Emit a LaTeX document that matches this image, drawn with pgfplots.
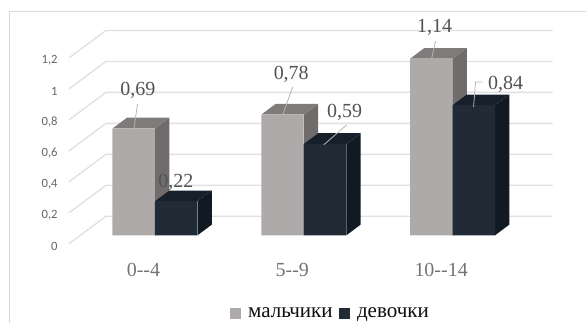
\documentclass[border=0pt]{standalone}
\usepackage{pgfplots}
\pgfplotsset{compat=1.18}
\usepackage{fontspec}
\setmainfont{Liberation Serif}
\newfontfamily\tickfont{Carlito}
\definecolor{boyfront}{HTML}{AEAAAA}
\definecolor{boyside}{HTML}{706C6B}
\definecolor{boytop}{HTML}{7F7B7A}
\definecolor{girlfront}{HTML}{212B35}
\definecolor{girlside}{HTML}{111A22}
\definecolor{girltop}{HTML}{17202A}
\definecolor{gridgrey}{HTML}{E0E0E0}
\definecolor{framegrey}{HTML}{DADADA}
\definecolor{leader}{HTML}{B5B5B5}

% Horizontal unit is one pixel; vertical unit is one value unit (155 px).
\newcommand\at[2]{(axis cs:#1,{(235.5-(#2))/155})}
% Side and top faces of a 3D bar: left edge, value, colours.
\newcommand\barfaces[4]{%
  \pgfmathsetmacro\xa{#1+42.5}%
  \pgfmathsetmacro\xb{#1+42.5+14.3}%
  \pgfmathsetmacro\xc{#1+14.3}%
  \pgfmathsetmacro\yb{#2+0.069}%
  \pgfmathsetmacro\yo{0.069}%
  \addplot[fill=#3,draw=none,forget plot] coordinates {(\xa,0) (\xb,\yo) (\xb,\yb) (\xa,#2)} -- cycle;
  \addplot[fill=#4,draw=none,forget plot] coordinates {(#1,#2) (\xc,\yb) (\xb,\yb) (\xa,#2)} -- cycle;
}
\newcommand\valuelabel[3]{\node[text=black!68,font=\fontsize{15}{15}\selectfont,inner sep=0pt] at \at{#1}{#2} {#3};}
% One wall gridline with its slanted floor segment.
\newcommand\wallline[1]{\draw[gridgrey,line width=1pt] \at{69}{#1+27.5} -- \at{106}{#1} -- \at{553}{#1};}

\begin{document}
\begin{tikzpicture}
\begin{axis}[
  x=0.75pt, y=116.25pt,
  xmin=60, xmax=560,
  ymin=-0.158, ymax=1.487,
  clip=false,
  axis line style={draw=none},
  major tick length=0pt,
  xtick={155,304,453},
  xticklabels={0{-}{-}4,5{-}{-}9,10{-}{-}14},
  xticklabel style={font=\fontsize{15}{15}\selectfont,text=black!55,yshift=0.8pt,xshift=-8.6pt},
  ytick={0,0.2,0.4,0.6,0.8,1,1.2},
  yticklabels={0,{0,2},{0,4},{0,6},{0,8},1,{1,2}},
  yticklabel style={font=\tickfont\fontsize{9.5}{10}\selectfont,text=black!60,yshift=-8.2pt,xshift=1.8pt},
  legend columns=2,
  legend style={draw=none,fill=none,at={(0.542,-0.212)},anchor=center,
    font=\fontsize{15.8}{16}\selectfont,text=black!95,inner sep=0pt,
    /tikz/every even column/.append style={column sep=2.5pt},
    /tikz/every odd column/.append style={column sep=3.5pt}},
  legend image code/.code={\fill[#1] (0pt,-4.1pt) rectangle (8.25pt,4.1pt);},
]
% frame and back-wall gridlines
\path \at{0}{0} rectangle \at{587}{323};
\draw[framegrey,line width=0.8pt] \at{9.5}{323} -- \at{9.5}{11.5} -- \at{587}{11.5};
\wallline{216.5}
\wallline{185.5}
\wallline{154.5}
\wallline{123.5}
\wallline{92.5}
\wallline{61.5}
\wallline{30.5}
% boys
\barfaces{112.7}{0.69}{boyside}{boytop}
\barfaces{261.7}{0.78}{boyside}{boytop}
\barfaces{410.4}{1.14}{boyside}{boytop}
\addplot[ybar,bar width=31.875pt,bar shift=-15.94pt,fill=boyfront,draw=none]
  coordinates {(155,0.69) (304,0.78) (453,1.14)};
\addlegendentry{мальчики}
% girls
\barfaces{155.2}{0.22}{girlside}{girltop}
\barfaces{304.2}{0.59}{girlside}{girltop}
\barfaces{453}{0.84}{girlside}{girltop}
\addplot[ybar,bar width=31.875pt,bar shift=15.94pt,fill=girlfront,draw=none]
  coordinates {(155,0.22) (304,0.59) (453,0.84)};
\addlegendentry{девочки}
% leader lines
\draw[leader,line width=0.6pt] \at{137.7}{104} -- \at{134}{129};
\draw[leader,line width=0.6pt] \at{293}{87} -- \at{283}{115};
\draw[leader,line width=0.6pt] \at{347}{125} -- \at{324}{145};
\draw[leader,line width=0.6pt] \at{436}{41} -- \at{432}{59};
\draw[leader,line width=0.6pt] \at{483}{82} -- \at{476}{82} -- \at{474}{107};
% value labels
\valuelabel{138}{90.5}{0,69}
\valuelabel{176}{183}{0,22}
\valuelabel{291.5}{74}{0,78}
\valuelabel{345}{112}{0,59}
\valuelabel{435}{27}{1,14}
\valuelabel{506}{84}{0,84}
\end{axis}
\end{tikzpicture}
\end{document}
